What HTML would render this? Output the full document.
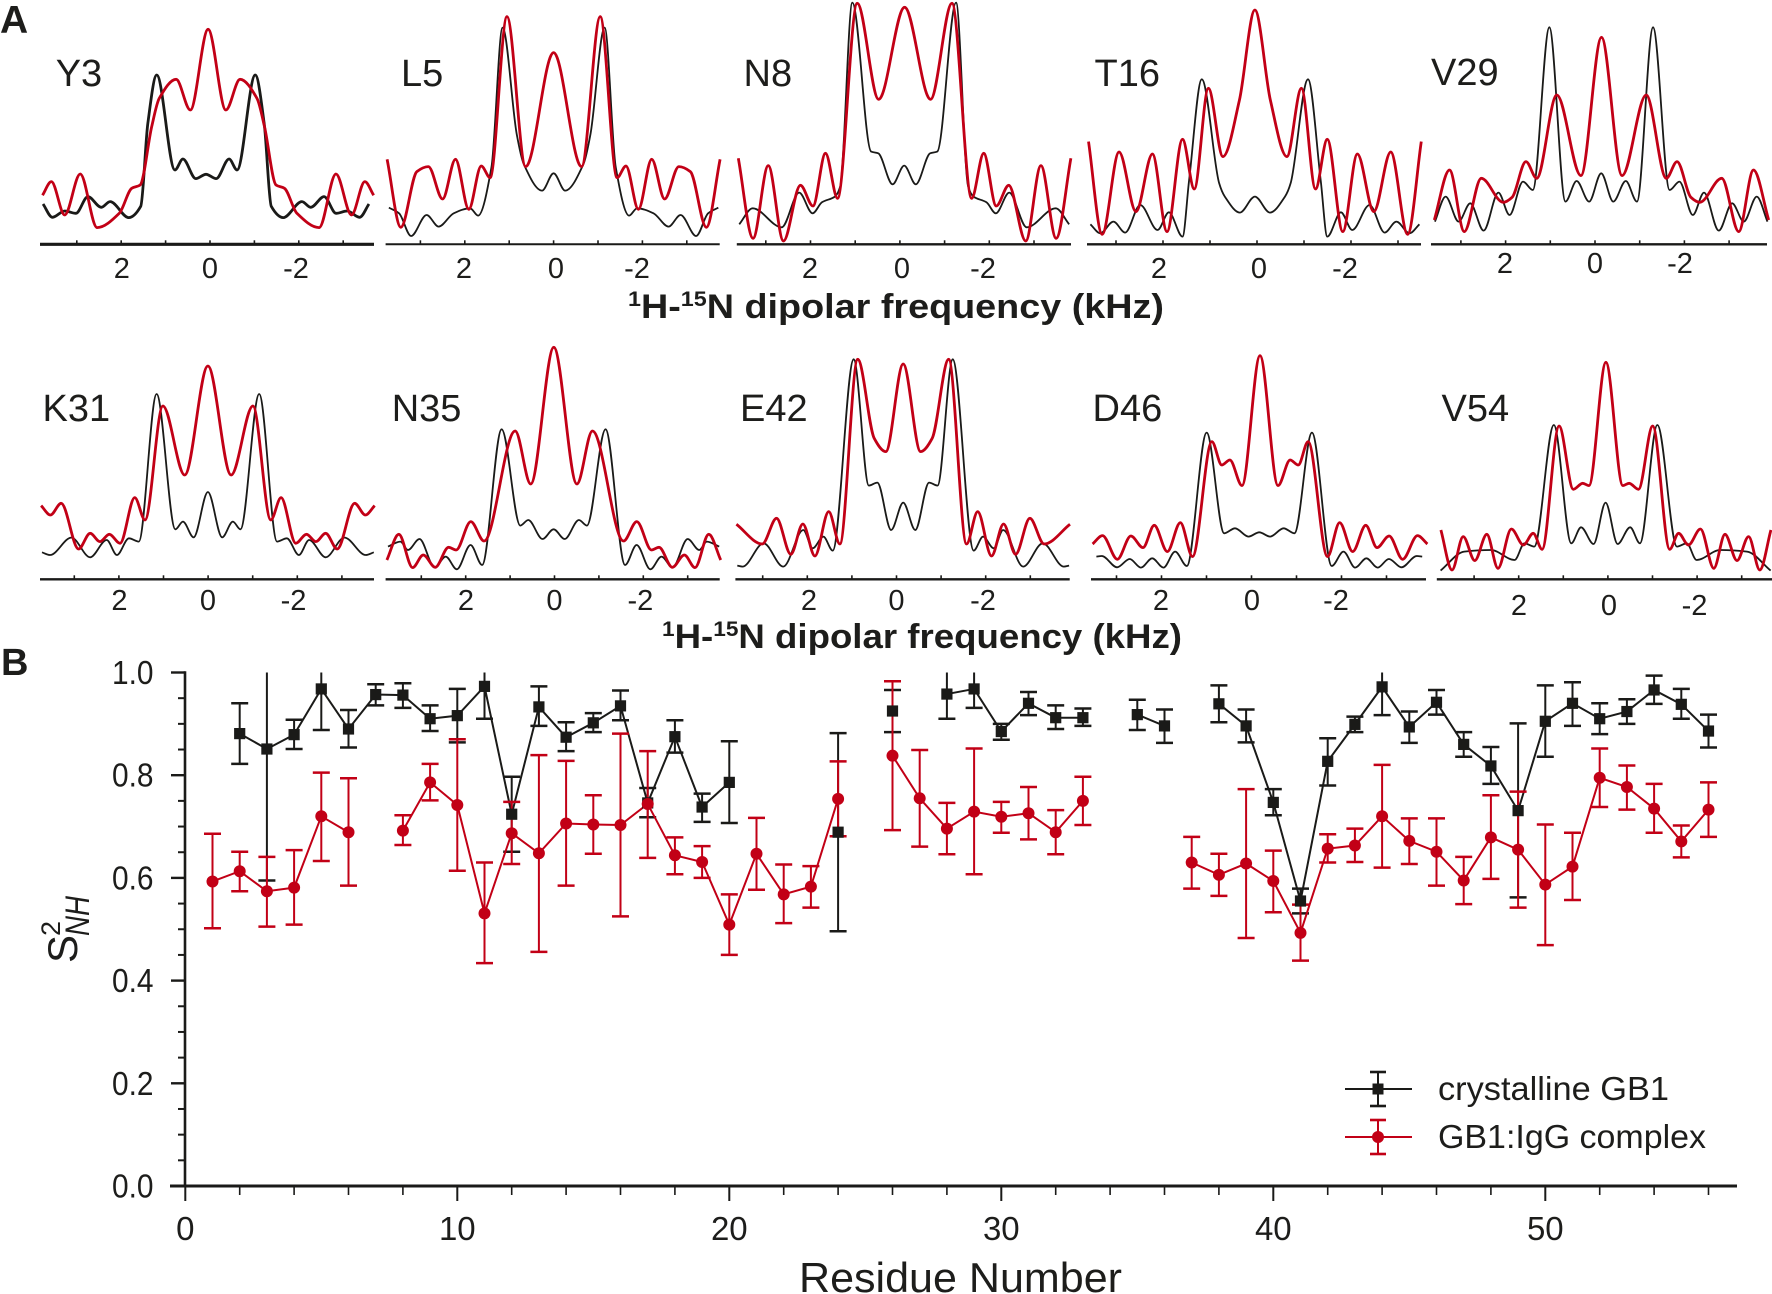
<!DOCTYPE html>
<html lang="en">
<head>
<meta charset="utf-8">
<title>GB1 dipolar spectra and order parameters</title>
<style>
html,body{margin:0;padding:0;background:#fff;}
svg{display:block;font-family:"Liberation Sans",Arial,sans-serif;fill:#1d1d1b;}
</style>
</head>
<body>
<svg id="figure" xmlns="http://www.w3.org/2000/svg" width="1772" height="1294" viewBox="0 0 1772 1294">
  <defs>
    <clipPath id="plot-clip"><rect x="185" y="672.5" width="1560" height="520"></rect></clipPath>
  </defs>
  <text x="0" y="33" font-size="39" font-weight="bold">A</text>
  <text x="1" y="675" font-size="38" font-weight="bold">B</text>
  <g id="panel-a"></g>
  <text x="628" y="318" font-size="34" font-weight="bold" textLength="536" lengthAdjust="spacingAndGlyphs"><tspan font-size="21" dy="-12">1</tspan><tspan dy="12">H-</tspan><tspan font-size="21" dy="-12">15</tspan><tspan dy="12">N dipolar frequency (kHz)</tspan></text>
  <text x="662" y="648" font-size="34" font-weight="bold" textLength="520" lengthAdjust="spacingAndGlyphs"><tspan font-size="21" dy="-12">1</tspan><tspan dy="12">H-</tspan><tspan font-size="21" dy="-12">15</tspan><tspan dy="12">N dipolar frequency (kHz)</tspan></text>
  <g id="panel-b"></g>
  <g>
    <text transform="translate(77,963) rotate(-90)" font-size="42">S</text>
    <text transform="translate(60,936) rotate(-90)" font-size="27">2</text>
    <text transform="translate(89,936) rotate(-90)" font-size="34" font-style="italic" textLength="40" lengthAdjust="spacingAndGlyphs">NH</text>
  </g>
  <text x="799" y="1292" font-size="42" textLength="323" lengthAdjust="spacingAndGlyphs">Residue Number</text>
  <g>
    <g>
      <line x1="1345" y1="1089" x2="1412" y2="1089" stroke="#1a1a18" stroke-width="2"></line>
      <line x1="1378" y1="1072" x2="1378" y2="1106" stroke="#1a1a18" stroke-width="2"></line>
      <line x1="1370" y1="1072" x2="1386" y2="1072" stroke="#1a1a18" stroke-width="2.6"></line>
      <line x1="1370" y1="1106" x2="1386" y2="1106" stroke="#1a1a18" stroke-width="2.6"></line>
      <rect x="1372.5" y="1083.5" width="11" height="11" fill="#1a1a18"></rect>
      <text x="1438" y="1100" font-size="33" textLength="231" lengthAdjust="spacingAndGlyphs">crystalline GB1</text>
    </g>
    <g>
      <line x1="1345" y1="1137" x2="1412" y2="1137" stroke="#c20016" stroke-width="2"></line>
      <line x1="1378" y1="1120" x2="1378" y2="1154" stroke="#c20016" stroke-width="2"></line>
      <line x1="1370" y1="1120" x2="1386" y2="1120" stroke="#c20016" stroke-width="2.6"></line>
      <line x1="1370" y1="1154" x2="1386" y2="1154" stroke="#c20016" stroke-width="2.6"></line>
      <circle cx="1378" cy="1137" r="6" fill="#c20016"></circle>
      <text x="1438" y="1148" font-size="33" textLength="268" lengthAdjust="spacingAndGlyphs">GB1:IgG complex</text>
    </g>
  </g>
</svg>
<script>
// ---- Panel A: half-spectra as [offset from centre in kHz, intensity in a.u.] (mirrored about the centre) ----
const y3Crystal = [[0,70],[.23,65.7],[.52,85.3],[.7,74.3],[1.11,169.3],[1.31,121],[1.47,38],[1.74,26.7],[2.16,42.7],[2.36,37],[2.66,47.7],[2.93,31],[3.18,33.3],[3.46,27],[3.67,40.3]];
const y3Complex = [[0,215],[.4,134.3],[.72,165],[1.1,146],[1.27,117.7],[1.53,59.3],[1.72,56],[2,31],[2.5,16.7],[2.88,70.3],[3.23,29.3],[3.53,62.7],[3.73,49]];
const l5Crystal = [[0,71],[.26,53.7],[.67,80],[.83,110],[1.15,216.7],[1.4,77],[1.7,28.7],[1.88,36],[2.25,31],[2.59,17.7],[2.86,29.3],[3.21,8.3],[3.48,31],[3.71,36.7]];
const l5Complex = [[0,191.7],[.63,77.7],[1.05,227.7],[1.43,66.7],[1.63,78.3],[1.91,35],[2.21,85],[2.5,45.3],[2.82,77.7],[3.08,72.7],[3.44,17],[3.75,85]];
const n8Crystal = [[0,78.7],[.26,60],[.58,91],[.74,92.7],[1.16,241.7],[1.43,58],[1.55,47.7],[1.84,42],[2.05,31],[2.35,51.7],[2.74,17],[3.39,36],[3.69,20]];
const n8Complex = [[0,237],[.58,145],[1.06,241],[1.5,46],[1.77,91],[2.05,38.3],[2.33,59],[2.71,3.3],[3.05,78.7],[3.39,6],[3.72,86]];
const t16Crystal = [[0,47.7],[.32,31.7],[.64,47.7],[.76,61],[1.13,165],[1.4,64],[1.54,7.7],[1.83,32],[2.07,14.3],[2.44,39.3],[2.76,11.7],[3.01,22.7],[3.29,11],[3.5,20]];
const t16Complex = [[0,234.3],[.33,144],[.68,87.7],[.99,156],[1.29,55.3],[1.54,105],[1.87,12.7],[2.18,90.3],[2.53,32.7],[2.89,92.3],[3.25,10],[3.54,102.7]];
const v29Crystal = [[0,71],[.27,42.7],[.55,63.3],[.8,42.7],[1.16,217],[1.53,54.3],[1.75,62.7],[2.05,29.3],[2.3,51.7],[2.63,13.7],[2.93,41],[3.19,22.7],[3.48,47.7],[3.72,22.7]];
const v29Complex = [[0,207],[.46,68.7],[1,149.3],[1.45,66],[1.69,82.7],[2,47],[2.2,42],[2.69,66],[3.07,12.7],[3.4,74.3],[3.74,24.3]];
const k31Crystal = [[0,87.3],[.32,42],[.56,57.7],[.73,50],[1.15,185.3],[1.55,37.7],[1.77,41],[2.04,24.3],[2.27,39.3],[2.64,22],[3.06,41.7],[3.54,24.3],[3.72,27]];
const k31Complex = [[0,213.3],[.52,104.3],[1.01,173.3],[1.41,59.3],[1.64,81.7],[1.97,36],[2.21,45],[2.42,37.7],[2.64,46],[2.9,30.3],[3.29,76],[3.53,64.3],[3.74,73.7]];
const n35Crystal = [[0,50],[.25,40.3],[.57,59.3],[.75,53.7],[1.17,150],[1.61,14.3],[1.87,34.3],[2.18,10],[2.43,22.7],[2.68,11.7],[3.02,40.3],[3.28,29.3],[3.45,37.7],[3.73,32.7]];
const n35Complex = [[0,232],[.52,95.3],[.87,148.3],[1.57,38.3],[1.87,57.7],[2.2,29.3],[2.37,32],[2.67,12],[2.94,24.3],[3.18,11.7],[3.49,45],[3.76,19.3]];
const e42Crystal = [[0,76.7],[.27,49.3],[.58,96.7],[.77,93.7],[1.11,220],[1.58,28.7],[1.79,42.7],[2.03,31],[2.24,49.3],[2.69,12.7],[3.13,36],[3.6,12.7],[3.72,13.7]];
const e42Complex = [[0,215.3],[.39,127.7],[.65,141],[1.02,220],[1.42,35.3],[1.67,67.7],[1.98,23.3],[2.25,55.3],[2.52,25],[2.84,61],[3.16,35.3],[3.74,55]];
const d46Crystal = [[0,47],[.24,42.7],[.54,51],[.78,46],[1.17,146.7],[1.61,13.3],[1.87,27.7],[2.13,11.7],[2.38,21],[2.63,11.7],[2.88,20.3],[3.16,12],[3.5,23.3],[3.62,22.7]];
const d46Complex = [[0,223.7],[.4,93.7],[.67,119.3],[.85,114.3],[1.07,137.7],[1.5,22.7],[1.77,56.7],[2.06,27.7],[2.35,54],[2.6,31.7],[2.87,43.3],[3.17,20],[3.5,43.7],[3.72,35.3]];
const v54Crystal = [[0,76.7],[.27,35.3],[.55,52],[.77,36],[1.16,154.3],[1.6,32.7],[1.82,36],[2.04,19.3],[2.57,29.3],[3.17,27.7],[3.7,8.7]];
const v54Complex = [[0,217],[.38,93.7],[.52,96],[.73,90],[1.05,153.3],[1.43,30],[1.63,46],[1.85,34.3],[2.12,50.3],[2.42,11],[2.67,45],[2.94,18.7],[3.2,42.7],[3.45,9.3],[3.7,49.3]];
const spectrumTickValues = [3, 2, 1, 0, -1, -2, -3];
const spectrumTickLabels = [2, 0, -2];

// ---- Panel B: order parameters per residue ----
const residues = [1,2,3,4,5,6,7,8,9,10,11,12,13,14,15,16,17,18,19,20,21,22,23,24,25,26,27,28,29,30,31,32,33,34,35,36,37,38,39,40,41,42,43,44,45,46,47,48,49,50,51,52,53,54,55,56];
const crystalS2 = [null,.881,.851,.879,.968,.890,.957,.956,.910,.916,.973,.724,.933,.874,.902,.935,.746,.875,.738,.786,null,null,null,.689,null,.925,null,.958,.968,.885,.940,.912,.912,null,.918,.896,null,.939,.896,.747,.555,.827,.899,.972,.894,.942,.860,.818,.731,.905,.940,.910,.924,.966,.938,.886];
const crystalUpper = [null,.940,1.107,.908,1.048,.927,.977,.979,.936,.968,1.036,.797,.973,.903,.921,.965,.775,.907,.764,.866,null,null,null,.882,null,.966,null,1.006,1.005,.900,.962,.936,.930,null,.947,.928,null,.975,.928,.773,.579,.872,.914,1.027,.924,.966,.884,.855,.901,.975,.981,.940,.948,.994,.968,.918];
const crystalLower = [null,.822,.595,.851,.888,.854,.936,.931,.886,.864,.910,.651,.896,.847,.884,.907,.718,.844,.709,.707,null,null,null,.496,null,.884,null,.910,.931,.869,.917,.890,.896,null,.888,.863,null,.903,.864,.722,.531,.780,.884,.917,.863,.918,.836,.783,.562,.836,.896,.880,.900,.939,.910,.854];
const complexS2 = [.593,.613,.574,.581,.720,.689,null,.692,.786,.742,.531,.687,.648,.706,.704,.703,.744,.644,.631,.509,.647,.568,.583,.754,null,.838,.755,.696,.729,.719,.726,.689,.750,null,null,null,.630,.606,.628,.594,.493,.657,.663,.720,.672,.651,.595,.679,.655,.587,.622,.795,.777,.735,.671,.733];
const complexUpper = [.686,.651,.641,.654,.805,.794,null,.722,.822,.870,.630,.748,.839,.828,.761,.881,.847,.679,.662,.568,.717,.626,.623,.827,null,.983,.849,.746,.852,.748,.777,.732,.797,null,null,null,.680,.647,.773,.653,.548,.685,.696,.820,.716,.716,.641,.761,.768,.704,.688,.852,.819,.783,.702,.786];
const complexLower = [.502,.574,.505,.509,.633,.585,null,.664,.751,.614,.434,.627,.456,.585,.647,.525,.639,.607,.600,.450,.577,.512,.542,.681,null,.693,.661,.646,.607,.688,.675,.646,.703,null,null,null,.579,.565,.483,.533,.439,.630,.631,.620,.627,.585,.549,.598,.542,.469,.557,.738,.733,.688,.640,.680];
const yMajorTicks = [0, 0.2, 0.4, 0.6, 0.8, 1];
const yMinorTicks = [.05,.1,.15,.25,.3,.35,.45,.5,.55,.65,.7,.75,.85,.9,.95];
const xMajorTicks = [0, 10, 20, 30, 40, 50];
const xMinorTicks = [2,4,6,8,12,14,16,18,22,24,26,28,32,34,36,38,42,44,46,48,52,54,56];

// ---- Layout (not data) ----
const BLACK = '#1a1a18', RED = '#c20016';
const panelLayouts = [
  {name:'Y3',  crystal:y3Crystal,  complex:y3Complex,  labelX:55.7,   labelY:86,  axisL:40,     axisR:374,    base:244.3, tick0:210,    scale:44.4, cc:206,    rc:208.1,  labels:[121.8,210,296],   labelYc:278, blackW:2.8, axisW:3.2},
  {name:'L5',  crystal:l5Crystal,  complex:l5Complex,  labelX:401,    labelY:86,  axisL:385.6,  axisR:719.7,  base:244.3, tick0:553.6,  scale:44.4, cc:553.6,  rc:553.6,  labels:[464,556,637],     labelYc:278, blackW:1.8, axisW:2},
  {name:'N8',  crystal:n8Crystal,  complex:n8Complex,  labelX:743.5,  labelY:86,  axisL:736.8,  axisR:1071,   base:244.3, tick0:899.9,  scale:44.7, cc:904.2,  rc:904.6,  labels:[810,902,983],     labelYc:278, blackW:1.8, axisW:2.4},
  {name:'T16', crystal:t16Crystal, complex:t16Complex, labelX:1094.5, labelY:86,  axisL:1087,   axisR:1421,   base:244.3, tick0:1257,   scale:47,   cc:1254.9, rc:1254.9, labels:[1159,1259,1345],  labelYc:278, blackW:1.8, axisW:2.4},
  {name:'V29', crystal:v29Crystal, complex:v29Complex, labelX:1431,   labelY:85,  axisL:1431,   axisR:1767,   base:244.3, tick0:1595,   scale:44.7, cc:1601.2, rc:1601.5, labels:[1505,1595,1680],  labelYc:273, blackW:1.8, axisW:2.4},
  {name:'K31', crystal:k31Crystal, complex:k31Complex, labelX:42.5,   labelY:421, axisL:40,     axisR:374,    base:579.3, tick0:208.1,  scale:44.6, cc:207.9,  rc:207.9,  labels:[119.4,208,293.5], labelYc:610, blackW:1.8, axisW:2.4},
  {name:'N35', crystal:n35Crystal, complex:n35Complex, labelX:391.7,  labelY:421, axisL:385.6,  axisR:719.7,  base:579.3, tick0:554.5,  scale:44.4, cc:553.6,  rc:553.8,  labels:[466,554.5,640.4], labelYc:610, blackW:1.8, axisW:2.4},
  {name:'E42', crystal:e42Crystal, complex:e42Complex, labelX:740,    labelY:421, axisL:735.4,  axisR:1069.7, base:579.3, tick0:896.5,  scale:44.6, cc:903.2,  rc:903.2,  labels:[809,896.5,983],   labelYc:610, blackW:1.8, axisW:2.4},
  {name:'D46', crystal:d46Crystal, complex:d46Complex, labelX:1092.5, labelY:421, axisL:1091,   axisR:1426,   base:579.3, tick0:1251.5, scale:45,   cc:1259.3, rc:1260,   labels:[1161,1252,1336],  labelYc:610, blackW:1.8, axisW:2.4},
  {name:'V54', crystal:v54Crystal, complex:v54Complex, labelX:1441.5, labelY:421, axisL:1436.8, axisR:1772,   base:579.3, tick0:1607.9, scale:44.6, cc:1605.6, rc:1605.9, labels:[1519,1609,1694.5],labelYc:615, blackW:1.8, axisW:2.4}
];

const SVGNS = 'http://www.w3.org/2000/svg';
function make(tag, parent) {
  const el = document.createElementNS(SVGNS, tag);
  parent.appendChild(el);
  return el;
}
function setAll(el, props) {
  for (const k in props) el.setAttribute(k, props[k]);
  return el;
}

// Monotone cubic path through points
function smoothPath(pts) {
  const n = pts.length, d = [], m = [];
  for (let i = 0; i < n - 1; i++) d.push((pts[i+1][1] - pts[i][1]) / (pts[i+1][0] - pts[i][0]));
  m[0] = d[0]; m[n-1] = d[n-2];
  for (let i = 1; i < n - 1; i++) {
    m[i] = d[i-1] * d[i] <= 0 ? 0 : 2 * d[i-1] * d[i] / (d[i-1] + d[i]);
  }
  let s = 'M' + pts[0][0].toFixed(2) + ' ' + pts[0][1].toFixed(2);
  for (let i = 0; i < n - 1; i++) {
    const h = (pts[i+1][0] - pts[i][0]) / 3;
    s += 'C' + (pts[i][0] + h).toFixed(2) + ' ' + (pts[i][1] + m[i] * h).toFixed(2) + ' ' +
         (pts[i+1][0] - h).toFixed(2) + ' ' + (pts[i+1][1] - m[i+1] * h).toFixed(2) + ' ' +
         pts[i+1][0].toFixed(2) + ' ' + pts[i+1][1].toFixed(2);
  }
  return s;
}
function spectrumPoints(half, centre, scale, base) {
  const xFreq = (khz) => centre - khz * scale;
  const yInt = (v) => base - v;
  const out = [];
  for (let i = half.length - 1; i > 0; i--) out.push([xFreq(half[i][0]), yInt(half[i][1])]);
  for (let i = 0; i < half.length; i++) out.push([xFreq(-half[i][0]), yInt(half[i][1])]);
  return out;
}

const panelA = document.getElementById('panel-a');
panelLayouts.forEach((p) => {
  const g = make('g', panelA);
  
  

  const axis = make('line', g);
  setAll(axis, {x1:p.axisL, x2:p.axisR, y1:p.base, y2:p.base, stroke:BLACK, 'stroke-width':p.axisW});
  
  

  spectrumTickValues.forEach((t) => {
    const tick = make('line', g);
    const tx = p.tick0 - t * p.scale;
    setAll(tick, {x1:tx, x2:tx, y1:p.base, y2:p.base - 4, stroke:BLACK, 'stroke-width':1.6});
    
    
  });

  spectrumTickLabels.forEach((t, i) => {
    const lab = make('text', g);
    setAll(lab, {x:p.labels[i], y:p.labelYc, 'text-anchor':'middle', 'font-size':29});
    lab.textContent = String(t);
    
    
  });

  const title = make('text', g);
  setAll(title, {x:p.labelX, y:p.labelY, 'font-size':38});
  title.textContent = p.name;
  
  

  const black = make('path', g);
  setAll(black, {d:smoothPath(spectrumPoints(p.crystal, p.cc, p.scale, p.base)), fill:'none', stroke:BLACK, 'stroke-width':p.blackW, 'stroke-linejoin':'round'});
  
  

  const red = make('path', g);
  setAll(red, {d:smoothPath(spectrumPoints(p.complex, p.rc, p.scale, p.base)), fill:'none', stroke:RED, 'stroke-width':2.8, 'stroke-linejoin':'round'});
  
  
});

// ---- Panel B ----
const xScale = (r) => 185.3 + 27.2 * r;
const yScale = (v) => 1186 - 513.5 * v;
const panelB = document.getElementById('panel-b');

function drawLine(parent, x1, y1, x2, y2, color, w) {
  const l = make('line', parent);
  setAll(l, {x1:x1, y1:y1, x2:x2, y2:y2, stroke:color, 'stroke-width':w});
  return l;
}

// axes
const axesG = make('g', panelB);


const yAxisLine = drawLine(axesG, 185, yScale(1) - 1.2, 185, 1186, BLACK, 2.6);


const xAxisLine = drawLine(axesG, 170, 1186, 1737, 1186, BLACK, 3);



yMajorTicks.forEach((v) => {
  const t = drawLine(axesG, 171, yScale(v), 185, yScale(v), BLACK, 2.4);
  
  
  const lab = make('text', axesG);
  setAll(lab, {x:153.5, y:yScale(v) + 11.5, 'text-anchor':'end', 'font-size':33, textLength:41.5, lengthAdjust:'spacingAndGlyphs'});
  lab.textContent = v.toFixed(1);
  
  
});
yMinorTicks.forEach((v) => {
  const t = drawLine(axesG, 178, yScale(v), 185, yScale(v), BLACK, 2);
  
  
});
xMajorTicks.forEach((r) => {
  const t = drawLine(axesG, xScale(r), 1186, xScale(r), 1201, BLACK, 2);
  
  
  const lab = make('text', axesG);
  setAll(lab, {x:xScale(r), y:1240, 'text-anchor':'middle', 'font-size':33});
  lab.textContent = String(r);
  
  
});
xMinorTicks.forEach((r) => {
  const t = drawLine(axesG, xScale(r), 1186, xScale(r), 1195, BLACK, 1.6);
  
  
});

// series: lines and error bars
function drawSeries(values, upper, lower, color, seriesName) {
  const g = make('g', panelB);
  g.setAttribute('clip-path', 'url(#plot-clip)');
  
  

  let d = '', open = false;
  residues.forEach((r, i) => {
    if (values[i] === null) { open = false; return; }
    d += (open ? 'L' : 'M') + xScale(r).toFixed(2) + ' ' + yScale(values[i]).toFixed(2);
    open = true;
  });
  const path = make('path', g);
  setAll(path, {d:d, fill:'none', stroke:color, 'stroke-width':2});
  
  

  residues.forEach((r, i) => {
    if (values[i] === null) return;
    const x = xScale(r);
    const stem = drawLine(g, x, yScale(upper[i]), x, yScale(lower[i]), color, 2);
    
    
    const capU = drawLine(g, x - 8.5, yScale(upper[i]), x + 8.5, yScale(upper[i]), color, 2.5);
    
    
    const capL = drawLine(g, x - 8.5, yScale(lower[i]), x + 8.5, yScale(lower[i]), color, 2.5);
    
    
  });
}
drawSeries(crystalS2, crystalUpper, crystalLower, BLACK, 'crystalline');
drawSeries(complexS2, complexUpper, complexLower, RED, 'complex');

// markers on top
const markersG = make('g', panelB);


residues.forEach((r, i) => {
  if (crystalS2[i] === null) return;
  const sq = make('rect', markersG);
  setAll(sq, {x:xScale(r) - 5.6, y:yScale(crystalS2[i]) - 5.6, width:11.2, height:11.2, fill:BLACK});
  
  
});
residues.forEach((r, i) => {
  if (complexS2[i] === null) return;
  const c = make('circle', markersG);
  setAll(c, {cx:xScale(r), cy:yScale(complexS2[i]), r:6, fill:RED});
  
  
});
</script>
</body>
</html>
